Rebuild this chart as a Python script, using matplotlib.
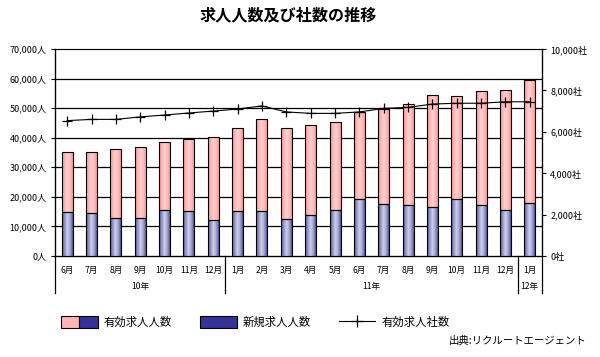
import matplotlib
matplotlib.use("Agg")
import matplotlib.pyplot as plt
import numpy as np
from matplotlib.colors import LinearSegmentedColormap
from matplotlib.patches import Patch
from matplotlib.lines import Line2D
from matplotlib.legend_handler import HandlerTuple
import matplotlib.transforms as mtransforms

plt.rcParams['font.family'] = ['Noto Sans CJK JP', 'DejaVu Sans']

months = ["6月", "7月", "8月", "9月", "10月", "11月", "12月",
          "1月", "2月", "3月", "4月", "5月", "6月", "7月", "8月", "9月", "10月", "11月", "12月",
          "1月"]
years = ["10年", "11年", "12年"]
year_sizes = [7, 12, 1]

total_openings = [35300, 35100, 36100, 36800, 38400, 39500, 40100,
                  43200, 46200, 43200, 44400, 45200, 48700, 49600, 51300, 54300, 54000, 55700, 56000,
                  59400]
new_openings = [14800, 14400, 12800, 12800, 15400, 15100, 12100,
                15100, 15100, 12400, 13800, 15400, 19200, 17600, 17100, 16500, 19200, 17100, 15400,
                17800]
companies = [6540, 6600, 6600, 6720, 6810, 6910, 7000,
             7100, 7250, 6960, 6890, 6890, 6960, 7130, 7180, 7340, 7380, 7380, 7450,
             7450]

left_ticks = list(range(0, 70001, 10000))
right_ticks = list(range(0, 10001, 2000))

fig = plt.figure(figsize=(6.0, 3.57), dpi=100)
ax = fig.add_axes([55/600, 1-256/357, (542-55)/600, (256-49)/357])

x = np.arange(len(months))
w = 0.45

pink_cmap = LinearSegmentedColormap.from_list(
    "pk", ["#ff8e8e", "#ffb2b2", "#ffd2d2", "#ffbcbc", "#ff9898"])
blue_cmap = LinearSegmentedColormap.from_list(
    "bl", ["#56569a", "#9494c6", "#d0d0ec", "#a4a4d2", "#565696"])
grad = np.linspace(0, 1, 64).reshape(1, -1)

upper = [t - n for t, n in zip(total_openings, new_openings)]
bars_new = ax.bar(x, new_openings, width=w, color="none", edgecolor="black", linewidth=0.8, zorder=4)
bars_up = ax.bar(x, upper, bottom=new_openings, width=w, color="none", edgecolor="black", linewidth=0.8, zorder=4)
for bars, cmap in ((bars_new, blue_cmap), (bars_up, pink_cmap)):
    for b in bars:
        x0, y0 = b.get_x(), b.get_y()
        im = ax.imshow(grad, cmap=cmap, aspect="auto",
                       extent=(x0, x0 + b.get_width(), y0, y0 + b.get_height()),
                       zorder=3, interpolation="bilinear")
        im.set_clip_path(b)

ax.set_xlim(-0.5, len(months) - 0.5)
ax.set_ylim(0, 70000)
ax.set_yticks(left_ticks)
ax.set_yticklabels([f"{v:,}人" for v in left_ticks], fontsize=6.5)
ax.tick_params(axis="y", length=3, width=0.8, pad=3, colors="black")
ax.set_xticks([])
for v in left_ticks[1:-1]:
    ax.axhline(v, color="black", linewidth=0.9, zorder=2)
ax.spines["top"].set_color("#808080")
ax.spines["left"].set_linewidth(0.9)
ax.spines["right"].set_linewidth(0.9)
ax.spines["bottom"].set_linewidth(0.9)

ax2 = ax.twinx()
ax2.set_ylim(0, 10000)
ax2.set_yticks(right_ticks)
ax2.set_yticklabels([f"{v:,}社" for v in right_ticks], fontsize=6.5)
ax2.tick_params(axis="y", length=3, width=0.8, pad=3)
ax2.plot(x, companies, color="black", linewidth=0.8, marker="+", markersize=7,
         markeredgewidth=0.9, zorder=5)
ax2.set_xlim(-0.5, len(months) - 0.5)

trans = mtransforms.blended_transform_factory(ax.transData, fig.transFigure)
for i, m in enumerate(months):
    ax.text(i, 1 - 270/357, m, transform=trans, ha="center", va="center", fontsize=6.2)
start = 0
seps = [-0.5]
for yname, n in zip(years, year_sizes):
    ax.text(start + (n - 1) / 2, 1 - 287/357, yname, transform=trans, ha="center",
            va="center", fontsize=6.2)
    start += n
    seps.append(start - 0.5)
for s in seps:
    ax.add_line(Line2D([s, s], [1 - 256/357, 1 - 293/357], transform=trans,
                       color="black", linewidth=0.9, clip_on=False))

fig.text(288/600, 1 - 15/357, "求人人数及び社数の推移", ha="center", va="center",
         fontsize=11.6, fontweight="bold")

h1 = (Patch(facecolor="#ffb4b4", edgecolor="black", linewidth=0.8),
      Patch(facecolor="#333399", edgecolor="black", linewidth=0.8))
h2 = Patch(facecolor="#333399", edgecolor="black", linewidth=0.8)
h3 = Line2D([], [], color="black", linewidth=0.8, marker="+", markersize=9, markeredgewidth=0.9)
fig.legend([h1, h2, h3], ["有効求人人数", "新規求人人数", "有効求人社数"],
           handler_map={tuple: HandlerTuple(ndivide=None, pad=0)},
           loc="center left", bbox_to_anchor=(51/600, 1 - 322/357), ncol=3, frameon=False,
           fontsize=8.2, handlelength=3.2, handleheight=1.3, handletextpad=0.5, columnspacing=2.5)
fig.text(587/600, 1 - 341/357, "出典:リクルートエージェント", ha="right", va="center", fontsize=7.5)

fig.savefig("out.png", dpi=100)
